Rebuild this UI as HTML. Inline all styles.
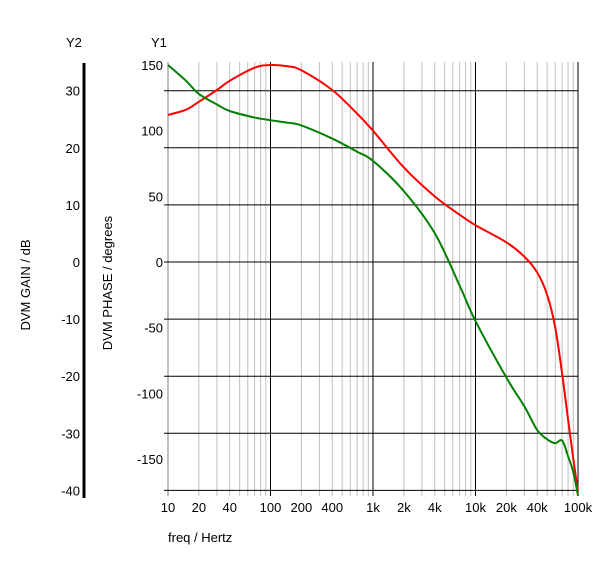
<!DOCTYPE html>
<html><head><meta charset="utf-8"><style>
body{margin:0;background:#fff;}
svg text{font-family:"Liberation Sans",sans-serif;font-size:13px;fill:#000;}
</style></head><body>
<svg id="c" width="600" height="563"></svg>
<script>
const freqs=[10,15,20,30,40,70,100,150,200,400,700,1000,2000,4000,7000,10000,20000,30000,40000,50000,60000,70000,80000,90000,100000];
const phaseRed=[112,116,122,131,138,148,150,149,146,131,113,100,72,50,36,28,15,4,-8,-25,-50,-85,-120,-150,-175];
const phaseGreen=[150,138,128,120,115,110,108,106,104,94,84,77,54,22,-18,-45,-88,-110,-128,-135,-138,-136,-148,-160,-178];
const y1Ticks=[150,100,50,0,-50,-100,-150];
const y2Ticks=[30,20,10,0,-10,-20,-30,-40];
const xTickVals=[10,20,40,100,200,400,1000,2000,4000,10000,20000,40000,100000];
const xTickLabels=["10","20","40","100","200","400","1k","2k","4k","10k","20k","40k","100k"];
const NS="http://www.w3.org/2000/svg",svg=document.getElementById('c');
const L=168,R=578,T=62,B=491;
const x=f=>L+(Math.log10(f)-1)*102.5;
const y1=v=>262-v*1.313;
const y2=v=>262-v*5.71;
function el(t,a,p){const e=document.createElementNS(NS,t);for(const k in a)e.setAttribute(k,a[k]);(p||svg).appendChild(e);return e;}
for(let d=10;d<100000;d*=10)for(let m=1;m<10;m++){const f=d*m;if(m===1&&d!==10)continue;
 const g=el('line',{x1:x(f),x2:x(f),y1:T,y2:B+5,stroke:'#c0c0c0','stroke-width':m===1?2:1});
 
 }
for(let d=100;d<=100000;d*=10){const g=el('line',{x1:x(d),x2:x(d),y1:T,y2:B+5,stroke:'#000','stroke-width':1});
 
 }
y2Ticks.forEach(v=>{const g=el('line',{x1:L-4,x2:R,y1:y2(v),y2:y2(v),stroke:'#000'});
 
 
 const t=el('text',{x:80,y:y2(v)+5,'text-anchor':'end'});t.textContent=v;
 
 });
y1Ticks.forEach(v=>{const t=el('text',{x:163,y:y1(v)+5,'text-anchor':'end'});t.textContent=v;
 
 });
xTickVals.forEach((f,i)=>{const t=el('text',{x:x(f),y:512,'text-anchor':'middle'});t.textContent=xTickLabels[i];
 
 });
const ax=el('line',{x1:84,x2:84,y1:63,y2:498,stroke:'#000','stroke-width':3});


function series(vals,color,name){
 const P=freqs.map((f,i)=>[x(f),y1(vals[i])]);
 let d='M'+P[0][0]+','+P[0][1];
 for(let i=0;i<P.length-1;i++){const p0=P[Math.max(i-1,0)],p1=P[i],p2=P[i+1],p3=P[Math.min(i+2,P.length-1)];
  const t=1/6;
  d+=' C'+(p1[0]+(p2[0]-p0[0])*t)+','+(p1[1]+(p2[1]-p0[1])*t)+' '+(p2[0]-(p3[0]-p1[0])*t)+','+(p2[1]-(p3[1]-p1[1])*t)+' '+p2[0]+','+p2[1];}
 const p=el('path',{d:d,fill:'none',stroke:color,'stroke-width':2,'stroke-linejoin':'round'});
 
 }
series(phaseRed,'#ff0000','red-phase-line');
series(phaseGreen,'#008000','green-phase-line');
function txt(s,a,n){const t=el('text',a);t.textContent=s;
 
 }
txt('Y2',{x:66,y:47},'y2-title');
txt('Y1',{x:151,y:47},'y1-title');
txt('freq / Hertz',{x:168,y:542},'x-axis-title');
txt('DVM GAIN / dB',{x:30,y:285,transform:'rotate(-90 30 285)','text-anchor':'middle'},'y2-axis-title');
txt('DVM PHASE / degrees',{x:112,y:283,transform:'rotate(-90 112 283)','text-anchor':'middle'},'y1-axis-title');
</script>
</body></html>
